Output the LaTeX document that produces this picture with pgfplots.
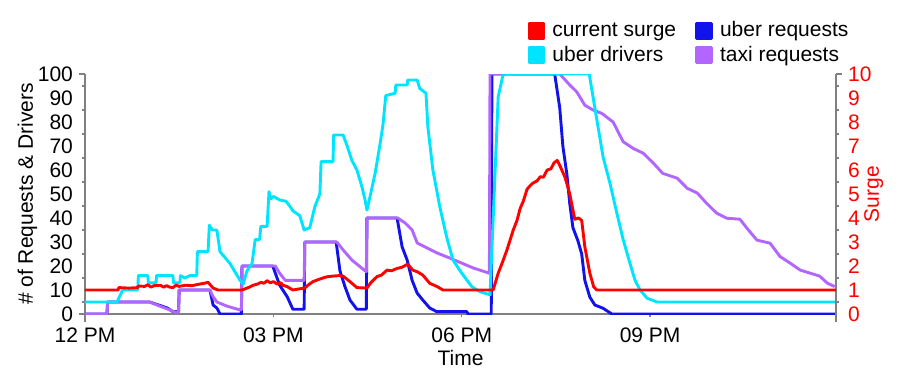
\documentclass[border=0pt]{standalone}
\usepackage{fontspec}
\setmainfont{Liberation Sans}
\usepackage{pgfplots}
\pgfplotsset{compat=1.18}
\definecolor{cred}{RGB}{255,0,0}
\definecolor{cblue}{RGB}{18,18,235}
\definecolor{ccyan}{RGB}{0,229,255}
\definecolor{cpurple}{RGB}{178,102,255}
\definecolor{axgray}{RGB}{128,128,128}
\begin{document}
\begin{tikzpicture}
\path[use as bounding box] (-42.5pt,-31.5pt) rectangle (407pt,157pt);
\pgfplotsset{
  base/.style={
    scale only axis, width=375.5pt, height=120pt,
    xmin=0, xmax=11.96,
    font=\fontsize{10.5}{12.6}\selectfont,
    /pgf/number format/assume math mode=true,
    axis line style={-, draw=axgray, line width=1.1pt},
    every outer x axis line/.append style={-},
    every outer y axis line/.append style={-},
    tick style={axgray, line width=0.7pt},
    major tick length=1.5pt, minor tick length=1.5pt,
    tick align=outside,
    clip mode=individual,
  },
}
\begin{axis}[base,
  ymin=0, ymax=100,
  axis x line*=bottom, axis y line*=left,
  xtick={0,3,6,9}, xticklabels={12 PM,03 PM,06 PM,09 PM},
  ytick={0,10,...,100}, minor y tick num=1,
  major y tick style={draw=none},
  xticklabel style={yshift=-2pt},
  yticklabel style={xshift=-1pt},
  xlabel={Time}, ylabel={\# of Requests \& Drivers},
  xlabel style={yshift=3pt},
  ylabel style={yshift=-6.5pt},
  every axis plot/.append style={line width=1.45pt, line join=round},
  after end axis/.code={
    \draw[axgray, line width=1.1pt] (rel axis cs:0,0) -- ++(0pt,-4pt);
    \draw[axgray, line width=1.1pt] (rel axis cs:0,1) -- ++(-3pt,0pt);
    \draw[axgray, line width=1.1pt] (rel axis cs:0,0) -- ++(-3pt,0pt);
  },
]
% uber requests
\addplot[cblue] coordinates {
(0,0) (0.35,0) (0.36,5) (1.03,5) (1.2,3.5) (1.31,2.5) (1.40,1) (1.49,1) (1.50,10) (1.99,10)
(2.04,3.75) (2.10,2.5) (2.15,0) (2.49,0) (2.50,20) (2.99,20) (3.10,12) (3.22,7.2) (3.31,2)
(3.49,2) (3.50,30) (4.00,30) (4.06,18) (4.14,11.4) (4.22,5.8) (4.33,2) (4.48,2) (4.49,40)
(4.97,40) (5.05,28) (5.13,22.5) (5.21,14) (5.29,8.7) (5.38,5.8) (5.49,2.5) (5.60,1) (6.08,1)
(6.10,0) (6.47,0) (6.48,100) (7.48,100) (7.56,86) (7.61,70) (7.675,58) (7.72,46) (7.77,36)
(7.85,30.5) (7.91,25) (7.96,14) (8.04,7) (8.12,3.75) (8.25,2.4) (8.39,0) (11.96,0)};
% taxi requests
\addplot[cpurple] coordinates {
(0,0) (0.35,0) (0.36,5) (1.03,5) (1.19,3.3) (1.35,1.7) (1.43,0.8) (1.49,0.8) (1.50,10) (1.99,10)
(2.04,7.2) (2.10,5) (2.26,3.3) (2.36,2.5) (2.47,1.7) (2.49,1.7) (2.50,20) (3.03,20) (3.10,17)
(3.19,14) (3.49,14) (3.50,30) (4.01,30) (4.11,26.7) (4.25,22.5) (4.38,19.7) (4.48,17.6)
(4.49,40) (4.98,40) (5.10,37.9) (5.21,35) (5.29,29.6) (5.45,27.5) (5.61,25.4) (5.81,23.3)
(6.00,21.2) (6.18,19.2) (6.44,17) (6.45,100) (7.56,100) (7.72,95.4) (7.83,92.6) (7.96,87)
(8.09,85) (8.23,83.6) (8.41,80) (8.57,71.8) (8.73,69) (8.89,67) (9.05,62.9) (9.20,58.6)
(9.43,56.6) (9.59,52.4) (9.75,50.4) (9.90,46.1) (10.06,42) (10.22,39.9) (10.43,39.5)
(10.54,35.8) (10.70,30.8) (10.91,29.5) (11.07,23.9) (11.23,21.2) (11.39,18.3) (11.55,17)
(11.70,15.8) (11.82,12.9) (11.94,11.4)};
% uber drivers
\addplot[ccyan] coordinates {
(0,5) (0.51,5) (0.60,10) (0.84,10) (0.85,16) (1.0,16) (1.01,13) (1.13,13) (1.14,16) (1.40,16)
(1.41,13) (1.51,13) (1.52,16) (1.59,15) (1.67,16) (1.78,16) (1.79,26) (1.96,26) (1.98,37)
(2.03,35) (2.10,35) (2.15,26) (2.31,21) (2.47,14) (2.52,12.5) (2.58,18) (2.66,21) (2.71,31)
(2.78,31) (2.80,36.5) (2.90,36.5) (2.93,51) (2.96,48) (3.0,49) (3.1,47.5) (3.2,47) (3.26,45)
(3.31,43) (3.42,41) (3.49,35) (3.58,36) (3.66,44.7) (3.74,50) (3.76,63.5) (3.95,63.5)
(3.96,74.6) (4.11,74.6) (4.17,70.4) (4.25,64) (4.33,60) (4.41,53) (4.46,47.5) (4.49,43.3)
(4.54,49) (4.62,58.6) (4.70,71) (4.745,78.8) (4.79,91) (4.94,92) (4.95,95.4) (5.13,95.4)
(5.14,97.5) (5.29,97.5) (5.33,94) (5.43,92) (5.46,78) (5.54,60) (5.65,44.7) (5.76,32)
(5.86,22.5) (6.00,17) (6.16,11.4) (6.29,9.3) (6.45,8) (6.53,58.6) (6.58,90.5) (6.66,100)
(8.03,100) (8.09,90.5) (8.17,78) (8.25,65.5) (8.36,54.5) (8.47,42) (8.57,31) (8.68,21)
(8.76,14) (8.84,10) (8.95,6.6) (9.11,5) (11.96,5)};
\end{axis}
\begin{axis}[base,
  ymin=0, ymax=10,
  axis y line*=right, axis x line=none,
  ytick={0,1,...,10}, minor y tick num=1,
  major y tick style={draw=none},
  yticklabel style={red, xshift=1pt},
  ylabel={Surge}, ylabel style={red, yshift=10.5pt},
  every axis plot/.append style={line width=1.45pt, line join=round},
  legend columns=2,
  legend cell align=left,
  legend image code/.code={\fill[#1] (0pt,-3.75pt) rectangle (7.5pt,3.75pt); \path (9pt,0pt);},
  legend style={at={(0.5807,1.253)}, anchor=north west, draw=none, fill=none,
    font=\fontsize{10.5}{12.6}\selectfont, row sep=-1pt,
    /tikz/every even column/.append style={column sep=7.5pt}},
  after end axis/.code={
    \draw[axgray, line width=1.1pt] (rel axis cs:1,0) -- ++(0pt,-4pt);
    \draw[axgray, line width=1.1pt] (rel axis cs:1,1) -- ++(3pt,0pt);
  },
]
\addplot[cred] coordinates {
(0,1) (0.525,1) (0.54,1.1) (0.70,1.08) (0.84,1.1) (0.85,1.17) (0.95,1.15) (1.0,1.22) (1.05,1.12)
(1.1,1.18) (1.2,1.2) (1.25,1.12) (1.3,1.18) (1.35,1.12) (1.4,1.1) (1.45,1.2) (1.5,1.15) (1.6,1.2)
(1.7,1.18) (1.83,1.25) (1.9,1.28) (1.96,1.32) (2.0,1.2) (2.04,1.08) (2.12,1.0) (2.5,1.0)
(2.6,1.1) (2.68,1.2) (2.75,1.25) (2.8,1.32) (2.85,1.28) (2.9,1.39) (2.95,1.3) (3.0,1.35)
(3.06,1.25) (3.12,1.3) (3.15,1.2) (3.22,1.14) (3.31,1.0) (3.42,1.05) (3.5,1.08) (3.55,1.2)
(3.63,1.35) (3.7,1.42) (3.79,1.5) (3.85,1.55) (3.95,1.58) (4.05,1.6) (4.11,1.58) (4.22,1.35)
(4.33,1.1) (4.49,1.08) (4.55,1.3) (4.65,1.56) (4.72,1.62) (4.81,1.83) (4.88,1.8) (4.97,1.9)
(5.05,1.95) (5.14,2.08) (5.22,1.83) (5.3,1.75) (5.38,1.62) (5.49,1.28) (5.61,1.14) (5.70,1.0)
(6.50,1.0) (6.58,1.7) (6.64,2.1) (6.72,2.67) (6.82,3.5) (6.88,3.9) (6.93,4.4) (6.98,4.7)
(7.04,5.2) (7.09,5.35) (7.13,5.45) (7.2,5.55) (7.25,5.72) (7.3,5.7) (7.36,6.0) (7.42,6.05)
(7.47,6.3) (7.52,6.4) (7.57,6.14) (7.64,5.72) (7.68,5.38) (7.72,5.0) (7.80,3.95) (7.86,4.0)
(7.91,3.9) (7.96,2.8) (8.04,1.7) (8.10,1.14) (8.15,1.0) (11.96,1.0)};
\addlegendentry{current surge}
\addlegendimage{cblue}
\addlegendentry{uber requests}
\addlegendimage{ccyan}
\addlegendentry{uber drivers}
\addlegendimage{cpurple}
\addlegendentry{taxi requests}
\end{axis}
\end{tikzpicture}
\end{document}
